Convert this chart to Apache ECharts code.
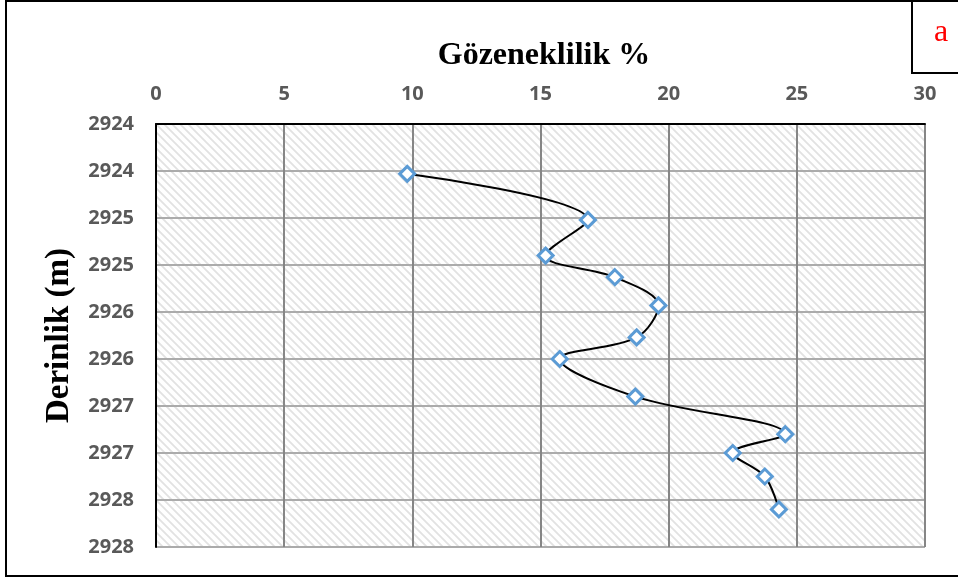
<!DOCTYPE html>
<html>
<head>
<meta charset="utf-8">
<title>Gözeneklilik - Derinlik</title>
<script src="https://cdn.jsdelivr.net/npm/echarts@6/dist/echarts.min.js"></script>
<style>
  html, body { margin: 0; padding: 0; background: #ffffff; }
  #chart { width: 958px; height: 578px; }
</style>
</head>
<body>
<div id="chart"></div>
<script>
// Porosity (%) measured at each depth (m)
var porosity = [9.8, 16.85, 15.2, 17.9, 19.6, 18.75, 15.75, 18.7, 24.55, 22.5, 23.75, 24.3];
var depth = [2924.03, 2924.52, 2924.90, 2925.13, 2925.43, 2925.77, 2926.00, 2926.40, 2926.80, 2927.00, 2927.25, 2927.60];

// Axis tick labels
var porosityTicks = ['0', '5', '10', '15', '20', '25', '30'];
var depthTicks = ['2924', '2924', '2925', '2925', '2926', '2926', '2927', '2927', '2928', '2928'];

var points = porosity.map(function (p, i) { return [p, depth[i]]; });

// Diagonal hatch used as the plot-area fill
function hatchTile() {
  var s = 8;
  var c = document.createElement('canvas');
  c.width = s; c.height = s;
  var g = c.getContext('2d');
  g.fillStyle = '#ffffff';
  g.fillRect(0, 0, s, s);
  g.strokeStyle = '#e2e2e2';
  g.lineWidth = 1.8;
  g.beginPath();
  g.moveTo(-2, -2); g.lineTo(s + 2, s + 2);
  g.moveTo(-2, s - 2); g.lineTo(2, s + 2);
  g.moveTo(s - 2, -2); g.lineTo(s + 2, 2);
  g.stroke();
  return c;
}

var tickFont = {
  fontFamily: '"Open Sans", "Liberation Sans", sans-serif',
  fontWeight: 'bold',
  fontSize: 20,
  color: '#595959'
};

var serifBold = '"Liberation Serif", "DejaVu Serif", serif';

var chart = echarts.init(document.getElementById('chart'), null, { renderer: 'canvas' });

chart.setOption({
  backgroundColor: '#ffffff',
  animation: false,
  grid: {
    left: 156,
    top: 124,
    right: 33,
    bottom: 31,
    show: true,
    borderWidth: 0,
    backgroundColor: { image: hatchTile(), repeat: 'repeat' }
  },
  title: {
    text: 'Gözeneklilik %',
    left: 539,
    top: 35,
    textAlign: 'center',
    textStyle: {
      fontFamily: serifBold,
      fontWeight: 'bold',
      fontSize: 32,
      color: '#000000'
    }
  },
  xAxis: {
    type: 'value',
    position: 'top',
    min: 0,
    max: 30,
    interval: 5,
    axisLine: { show: true, onZero: false, lineStyle: { color: '#000000', width: 2 } },
    axisTick: { show: false },
    axisLabel: Object.assign({
      margin: 20,
      formatter: function (v, i) { return porosityTicks[i] !== undefined ? porosityTicks[i] : String(v); }
    }, tickFont),
    splitLine: { show: true, lineStyle: { color: '#868686', width: 2 } }
  },
  yAxis: {
    type: 'value',
    inverse: true,
    min: 2923.5,
    max: 2928,
    interval: 0.5,
    name: 'Derinlik (m)',
    nameLocation: 'middle',
    nameGap: 80,
    nameRotate: 90,
    nameTextStyle: {
      fontFamily: serifBold,
      fontWeight: 'bold',
      fontSize: 33,
      color: '#000000'
    },
    axisLine: { show: true, onZero: false, lineStyle: { color: '#000000', width: 2 } },
    axisTick: { show: false },
    axisLabel: Object.assign({
      margin: 22,
      formatter: function (v, i) { return depthTicks[i] !== undefined ? depthTicks[i] : String(Math.round(v)); }
    }, tickFont),
    splitLine: { show: true, lineStyle: { color: '#ababab', width: 2 } }
  },
  series: [{
    type: 'line',
    data: points,
    smooth: 0.35,
    symbol: 'diamond',
    symbolSize: 15,
    lineStyle: { color: '#000000', width: 2 },
    itemStyle: { color: '#ffffff', borderColor: '#5b9bd5', borderWidth: 3 },
    z: 5
  }],
  graphic: [
    {
      type: 'rect',
      shape: { x: 6, y: 1, width: 960, height: 575 },
      style: { fill: 'none', stroke: '#000000', lineWidth: 2 },
      silent: true
    },
    {
      type: 'rect',
      shape: { x: 912, y: 1, width: 60, height: 72 },
      style: { fill: '#ffffff', stroke: '#000000', lineWidth: 2 },
      silent: true
    },
    {
      type: 'text',
      x: 941,
      y: 33,
      style: {
        text: 'a',
        fill: '#ff0000',
        font: '32px "Liberation Serif", serif',
        textAlign: 'center',
        textVerticalAlign: 'middle'
      },
      silent: true
    }
  ]
});
</script>
</body>
</html>
